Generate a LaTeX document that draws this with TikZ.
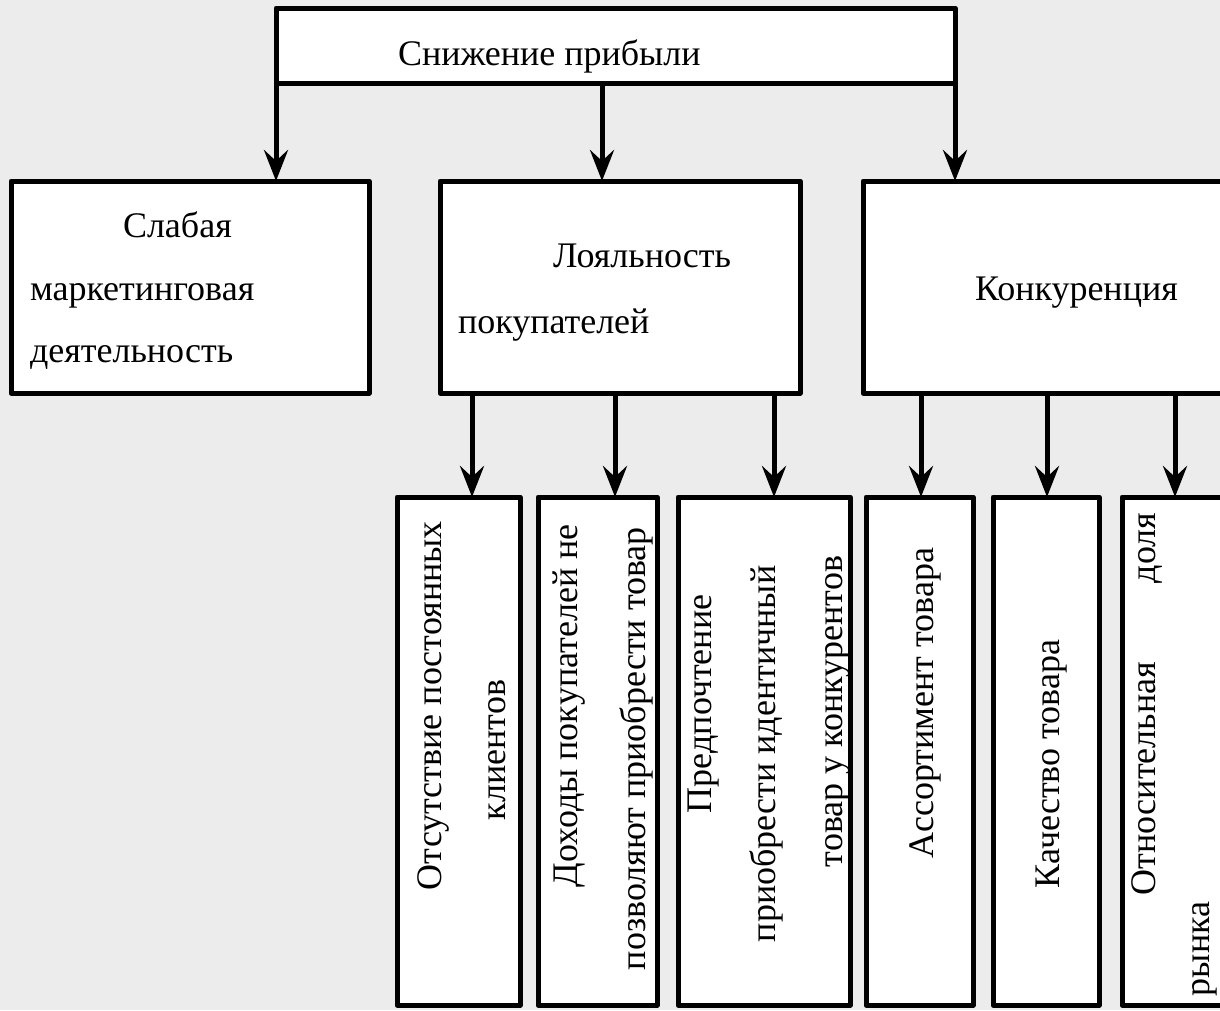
\documentclass[tikz,border=0pt]{standalone}
\usepackage{fontspec}
\setmainfont{Liberation Serif}
\usetikzlibrary{arrows.meta}
\definecolor{bgc}{RGB}{236,236,236}
\tikzset{
  box/.style={draw=black, line width=5pt, fill=white, inner sep=0pt, outer sep=0pt, anchor=north west, line join=round},
  txt/.style={inner sep=0pt, outer sep=0pt, font=\fontsize{36}{40}\selectfont},
  arr/.style={line width=5pt, -{Stealth[length=31pt,width=24pt,inset=11pt]}},
}
\begin{document}
\begin{tikzpicture}[x=1pt,y=-1pt]
\useasboundingbox (0,0) rectangle (1220,1010);
\clip (0,0) rectangle (1220,1010);
\fill[bgc] (0,0) rectangle (1220,1010);

% boxes
\node[box, minimum width=679pt, minimum height=75pt] (top) at (276,8) {};
\node[box, minimum width=358pt, minimum height=212pt] (slab) at (11,181) {};
\node[box, minimum width=360pt, minimum height=212pt] (loy) at (440,181) {};
\node[box, minimum width=377pt, minimum height=212pt] (konk) at (863,181) {};
\node[box, minimum width=123pt, minimum height=508pt] (c1) at (397,497) {};
\node[box, minimum width=119pt, minimum height=508pt] (c2) at (538,497) {};
\node[box, minimum width=172pt, minimum height=508pt] (c3) at (678,497) {};
\node[box, minimum width=107pt, minimum height=508pt] (c4) at (866,497) {};
\node[box, minimum width=106pt, minimum height=508pt] (c5) at (993,497) {};
\node[box, minimum width=140pt, minimum height=508pt] (c6) at (1122,497) {};

% horizontal texts
\node[txt, anchor=base west] (t0) at (398,65) {Снижение прибыли};
\node[txt, anchor=base west] (s1) at (123,237) {Слабая};
\node[txt, anchor=base west] (s2) at (30,300) {маркетинговая};
\node[txt, anchor=base west] (s3) at (30,362) {деятельность};
\node[txt, anchor=base west] (l1) at (553,267) {Лояльность};
\node[txt, anchor=base west] (l2) at (458,333) {покупателей};
\node[txt, anchor=base west] (k1) at (975,300) {Конкуренция};

% vertical texts
\node[txt, rotate=90, anchor=base west] (a1) at (441,890) {Отсутствие постоянных};
\node[txt, rotate=90, anchor=base west] (a2) at (505,820) {клиентов};
\node[txt, rotate=90, anchor=base west] (b1) at (577,887) {Доходы покупателей не};
\node[txt, rotate=90, anchor=base west] (b2) at (645,970) {позволяют приобрести товар};
\node[txt, rotate=90, anchor=base west] (d1) at (711,813) {Предпочтение};
\node[txt, rotate=90, anchor=base west] (d2) at (775,942) {приобрести идентичный};
\node[txt, rotate=90, anchor=base west] (d3) at (842,867) {товар у конкурентов};
\node[txt, rotate=90, anchor=base west] (e1) at (933,858) {Ассортимент товара};
\node[txt, rotate=90, anchor=base west] (f1) at (1059,888) {Качество товара};
\node[txt, rotate=90, anchor=base west] (g1) at (1155,895) {Относительная};
\node[txt, rotate=90, anchor=base west] (g2) at (1155,583) {доля};
\node[txt, rotate=90, anchor=base west] (g3) at (1209,996) {рынка};

% arrow x positions
\coordinate (xa) at (276,0);
\coordinate (xb) at (602,0);
\coordinate (xc) at (955,0);
\coordinate (x1) at (472,0);
\coordinate (x2) at (615,0);
\coordinate (x3) at (774,0);
\coordinate (x4) at (921,0);
\coordinate (x5) at (1047,0);
\coordinate (x6) at (1175,0);

% connectors
\draw[arr] (top.south -| xa) -- (slab.north -| xa);
\draw[arr] (top.south -| xb) -- (loy.north -| xb);
\draw[arr] (top.south -| xc) -- (konk.north -| xc);
\draw[arr] (loy.south -| x1) -- (c1.north -| x1);
\draw[arr] (loy.south -| x2) -- (c2.north -| x2);
\draw[arr] (loy.south -| x3) -- (c3.north -| x3);
\draw[arr] (konk.south -| x4) -- (c4.north -| x4);
\draw[arr] (konk.south -| x5) -- (c5.north -| x5);
\draw[arr] (konk.south -| x6) -- (c6.north -| x6);
\end{tikzpicture}
\end{document}
